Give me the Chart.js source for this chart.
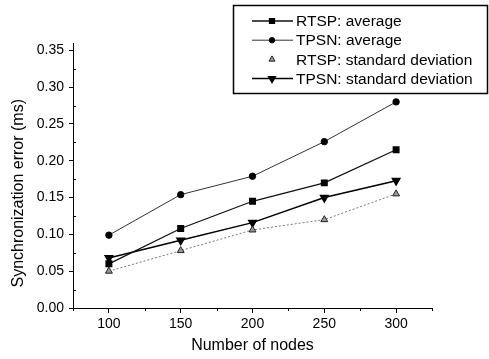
<!DOCTYPE html>
<html>
<head>
<meta charset="utf-8">
<script src="https://cdn.jsdelivr.net/npm/chart.js@4.4.0/dist/chart.umd.min.js"></script>
<style>
  html, body { margin: 0; padding: 0; background: #fff; }
  canvas { display: block; }
</style>
</head>
<body>
<canvas id="syncChart" width="489" height="359"></canvas>
<script>
const nodeCounts = [100, 150, 200, 250, 300];
const rtspAverage = [0.060, 0.108, 0.145, 0.170, 0.215];
const tpsnAverage = [0.099, 0.154, 0.179, 0.226, 0.280];
const rtspStdDev = [0.050, 0.078, 0.106, 0.120, 0.155];
const tpsnStdDev = [0.068, 0.092, 0.116, 0.150, 0.173];

const xTicks = [100, 150, 200, 250, 300];
const yTicks = [0, 0.05, 0.10, 0.15, 0.20, 0.25, 0.30, 0.35];
const xMinorTicks = [75, 125, 175, 225, 275, 325];
const yMinorTicks = [0.025, 0.075, 0.125, 0.175, 0.225, 0.275, 0.325];

function points(values) {
  return nodeCounts.map((n, i) => ({ x: n, y: values[i] }));
}

// small ticks between the labelled ones
const minorTicks = {
  id: "minorTicks",
  afterDraw(chart) {
    const ctx = chart.ctx;
    const xs = chart.scales.x;
    const ys = chart.scales.y;
    ctx.save();
    ctx.strokeStyle = "#000";
    ctx.lineWidth = 1;
    ctx.beginPath();
    xMinorTicks.forEach(v => {
      const px = Math.round(xs.getPixelForValue(v)) + 0.5;
      ctx.moveTo(px, xs.top);
      ctx.lineTo(px, xs.top + 3);
    });
    yMinorTicks.forEach(v => {
      const py = Math.round(ys.getPixelForValue(v)) + 0.5;
      ctx.moveTo(ys.right, py);
      ctx.lineTo(ys.right + 3, py);
    });
    ctx.stroke();
    ctx.restore();
  }
};

// boxed legend in the top right corner
const boxLegend = {
  id: "boxLegend",
  afterDraw(chart) {
    const ctx = chart.ctx;
    const left = 233, top = 5, right = 487, bottom = 93;
    ctx.save();
    ctx.fillStyle = "#fff";
    ctx.fillRect(left, top, right - left, bottom - top);
    ctx.strokeStyle = "#000";
    ctx.lineWidth = 1.5;
    ctx.strokeRect(left + 0.5, top + 0.5, right - left, bottom - top);
    ctx.font = '15.5px "Liberation Sans", Arial, sans-serif';
    ctx.textBaseline = "middle";
    chart.data.datasets.forEach((ds, i) => {
      const y = 21 + i * 19.2;
      if (ds.legendLine !== false) {
        ctx.beginPath();
        ctx.strokeStyle = ds.borderColor;
        ctx.lineWidth = ds.borderWidth;
        ctx.setLineDash(ds.borderDash || []);
        ctx.moveTo(252, y);
        ctx.lineTo(293, y);
        ctx.stroke();
        ctx.setLineDash([]);
      }
      ctx.fillStyle = ds.pointBackgroundColor;
      ctx.strokeStyle = ds.pointBorderColor;
      Chart.helpers.drawPoint(ctx, {
        pointStyle: ds.pointStyle,
        radius: ds.pointRadius - 0.5,
        rotation: ds.pointRotation || 0,
        borderWidth: 1
      }, 272, y);
      ctx.fillStyle = "#000";
      ctx.fillText(ds.label, 296, y + 1);
    });
    ctx.restore();
  }
};

Chart.defaults.font.family = '"Liberation Sans", Arial, sans-serif';
Chart.defaults.color = "#000";

new Chart(document.getElementById("syncChart"), {
  type: "line",
  data: {
    datasets: [
      {
        label: "RTSP: average",
        data: points(rtspAverage),
        borderColor: "#111",
        borderWidth: 1.3,
        pointStyle: "rect",
        pointRadius: 4,
        pointBackgroundColor: "#000",
        pointBorderColor: "#000"
      },
      {
        label: "TPSN: average",
        data: points(tpsnAverage),
        borderColor: "#333",
        borderWidth: 1,
        pointStyle: "circle",
        pointRadius: 3.2,
        pointBackgroundColor: "#000",
        pointBorderColor: "#000"
      },
      {
        label: "RTSP: standard deviation",
        data: points(rtspStdDev),
        borderColor: "#777",
        borderWidth: 1,
        borderDash: [2, 2],
        legendLine: false,
        pointStyle: "triangle",
        pointRadius: 4,
        pointBackgroundColor: "#999",
        pointBorderColor: "#222"
      },
      {
        label: "TPSN: standard deviation",
        data: points(tpsnStdDev),
        borderColor: "#000",
        borderWidth: 1.5,
        pointStyle: "triangle",
        pointRotation: 180,
        pointRadius: 4.3,
        pointBackgroundColor: "#000",
        pointBorderColor: "#000"
      }
    ]
  },
  options: {
    responsive: false,
    animation: false,
    layout: { padding: { top: 43, right: 57, left: 0, bottom: 0 } },
    plugins: {
      legend: { display: false },
      tooltip: { enabled: false }
    },
    scales: {
      x: {
        type: "linear",
        min: 75,
        max: 325,
        afterBuildTicks: s => { s.ticks = xTicks.map(v => ({ value: v })); },
        afterFit: s => { s.height = 51; },
        grid: { drawOnChartArea: false, drawTicks: true, tickLength: 5, color: "#000" },
        border: { color: "#000", width: 1 },
        ticks: { font: { size: 14 }, padding: 3, maxRotation: 0, autoSkip: false },
        title: { display: true, text: "Number of nodes", font: { size: 16 }, padding: { top: 6 } }
      },
      y: {
        min: 0,
        max: 0.36,
        afterBuildTicks: s => { s.ticks = yTicks.map(v => ({ value: v })); },
        afterFit: s => { s.width = 73; },
        grid: { drawOnChartArea: false, drawTicks: true, tickLength: 4, color: "#000" },
        border: { color: "#000", width: 1 },
        ticks: { font: { size: 14 }, padding: 5, autoSkip: false, callback: v => v.toFixed(2) },
        // trailing spaces nudge the rotated title a bit lower, as in the original
        title: { display: true, text: "Synchronization error (ms)        ", font: { size: 16 }, padding: { top: 9, bottom: 2 } }
      }
    }
  },
  plugins: [minorTicks, boxLegend]
});
</script>
</body>
</html>
